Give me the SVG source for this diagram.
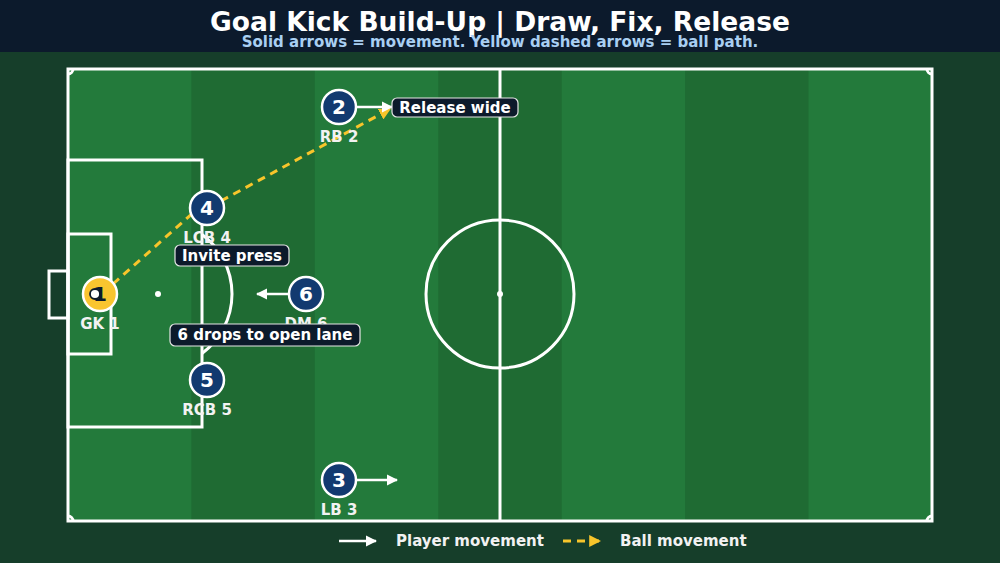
<svg xmlns="http://www.w3.org/2000/svg" width="1000" height="563" viewBox="0 0 1000 563">
<defs>
<marker id="wh" viewBox="0 0 10 10" refX="9" refY="5" markerWidth="4.5" markerHeight="4.5" orient="auto" markerUnits="strokeWidth"><path d="M0,0 L10,5 L0,10 Z" fill="#ffffff"/></marker>
<marker id="yh" viewBox="0 0 10 10" refX="9" refY="5" markerWidth="4" markerHeight="4" orient="auto" markerUnits="strokeWidth"><path d="M0,0 L10,5 L0,10 Z" fill="#f7c52b"/></marker>
</defs>
<style>
.line{fill:none;stroke:#ffffff;stroke-width:3}
.node{fill:#123a70;stroke:#ffffff;stroke-width:2.5}
.num{font-family:"DejaVu Sans",sans-serif;font-weight:bold;font-size:20px;fill:#ffffff;text-anchor:middle}
.lab{font-family:"DejaVu Sans",sans-serif;font-weight:bold;font-size:15px;fill:#f2f2f2;text-anchor:middle}
.box{fill:#0c1a2b;stroke:#e6e6e6;stroke-width:1.2}
.btxt{font-family:"DejaVu Sans",sans-serif;font-weight:bold;font-size:15px;fill:#ffffff;text-anchor:middle}
.mv{fill:none;stroke:#ffffff;stroke-width:2.5;marker-end:url(#wh)}
.ball{fill:none;stroke:#f7c52b;stroke-width:3;stroke-dasharray:8 6}
.leg{font-family:"DejaVu Sans",sans-serif;font-weight:bold;font-size:15px;fill:#f2f2f2}
</style>
<rect x="0" y="0" width="1000" height="563" fill="#163e2a"/>
<rect x="0" y="0" width="1000" height="52" fill="#0c1a2c"/>
<text x="500" y="31" font-family="DejaVu Sans, sans-serif" font-weight="bold" font-size="26.5" fill="#ffffff" text-anchor="middle">Goal Kick Build-Up | Draw, Fix, Release</text>
<text x="500" y="47" font-family="DejaVu Sans, sans-serif" font-weight="bold" font-size="15" fill="#a9cff2" text-anchor="middle">Solid arrows = movement. Yellow dashed arrows = ball path.</text>
<g id="pitch">
<rect x="68" y="69" width="864" height="452" fill="#237a3b"/>
<rect x="191.4" y="69" width="123.4" height="452" fill="#1f6b33"/>
<rect x="438.3" y="69" width="123.4" height="452" fill="#1f6b33"/>
<rect x="685.1" y="69" width="123.4" height="452" fill="#1f6b33"/>
<rect x="68" y="69" width="864" height="452" class="line"/>
<line x1="500" y1="69" x2="500" y2="521" class="line"/>
<circle cx="500" cy="294" r="74" class="line"/>
<circle cx="500" cy="294" r="3" fill="#ffffff"/>
<rect x="68" y="160" width="134" height="267" class="line"/>
<rect x="68" y="234" width="43" height="120" class="line"/>
<rect x="49" y="271" width="19" height="47" class="line"/>
<circle cx="158" cy="294" r="3" fill="#ffffff"/>
<path d="M202,234.5 A74,74 0 0 1 202,353.5" class="line"/>
<path d="M68,74 A5,5 0 0 0 73,69" class="line" stroke-width="2"/>
<path d="M927,69 A5,5 0 0 0 932,74" class="line" stroke-width="2"/>
<path d="M68,516 A5,5 0 0 1 73,521" class="line" stroke-width="2"/>
<path d="M927,521 A5,5 0 0 1 932,516" class="line" stroke-width="2"/>
</g>
<g id="connectors">
<line x1="113" y1="284" x2="194" y2="212" class="ball"/>
<line x1="221" y1="201" x2="390" y2="109" class="ball" marker-end="url(#yh)"/>
<line x1="357" y1="107" x2="392" y2="107" class="mv"/>
<line x1="357" y1="480" x2="397" y2="480" class="mv"/>
<line x1="289" y1="294" x2="257" y2="294" class="mv"/>
</g>
<g id="gk">
<circle cx="100" cy="294" r="17" fill="#f9c52f" stroke="#ffffff" stroke-width="2.5"/>
<text x="100" y="301" class="num" style="fill:#0c1a2c">1</text>
<circle cx="95" cy="294" r="5" fill="#ffffff" stroke="#0c1a2c" stroke-width="1.8"/>
<text x="100" y="329" class="lab">GK 1</text>
</g>
<g id="rb2">
<circle cx="339" cy="107" r="17" class="node"/>
<text x="339" y="114" class="num">2</text>
<text x="339" y="142" class="lab">RB 2</text>
</g>
<g id="lcb4">
<circle cx="207" cy="208" r="17" class="node"/>
<text x="207" y="215" class="num">4</text>
<text x="207" y="243" class="lab">LCB 4</text>
</g>
<g id="dm6">
<circle cx="306" cy="294" r="17" class="node"/>
<text x="306" y="301" class="num">6</text>
<text x="306" y="329" class="lab">DM 6</text>
</g>
<g id="rcb5">
<circle cx="207" cy="380" r="17" class="node"/>
<text x="207" y="387" class="num">5</text>
<text x="207" y="415" class="lab">RCB 5</text>
</g>
<g id="lb3">
<circle cx="339" cy="480" r="17" class="node"/>
<text x="339" y="487" class="num">3</text>
<text x="339" y="515" class="lab">LB 3</text>
</g>
<g id="label-invite">
<rect x="175" y="245" width="114" height="21" rx="5" class="box"/>
<text x="232" y="261" class="btxt">Invite press</text>
</g>
<g id="label-drops">
<rect x="170" y="324" width="190" height="22" rx="5" class="box"/>
<text x="265" y="340" class="btxt">6 drops to open lane</text>
</g>
<g id="label-release">
<rect x="392" y="98" width="126" height="19" rx="5" class="box"/>
<text x="455" y="113" class="btxt">Release wide</text>
</g>
<g id="legend">
<line x1="339" y1="541" x2="376" y2="541" class="mv"/>
<text x="396" y="546" class="leg">Player movement</text>
<line x1="563" y1="541" x2="600" y2="541" class="ball" marker-end="url(#yh)"/>
<text x="620" y="546" class="leg">Ball movement</text>
</g>
</svg>
